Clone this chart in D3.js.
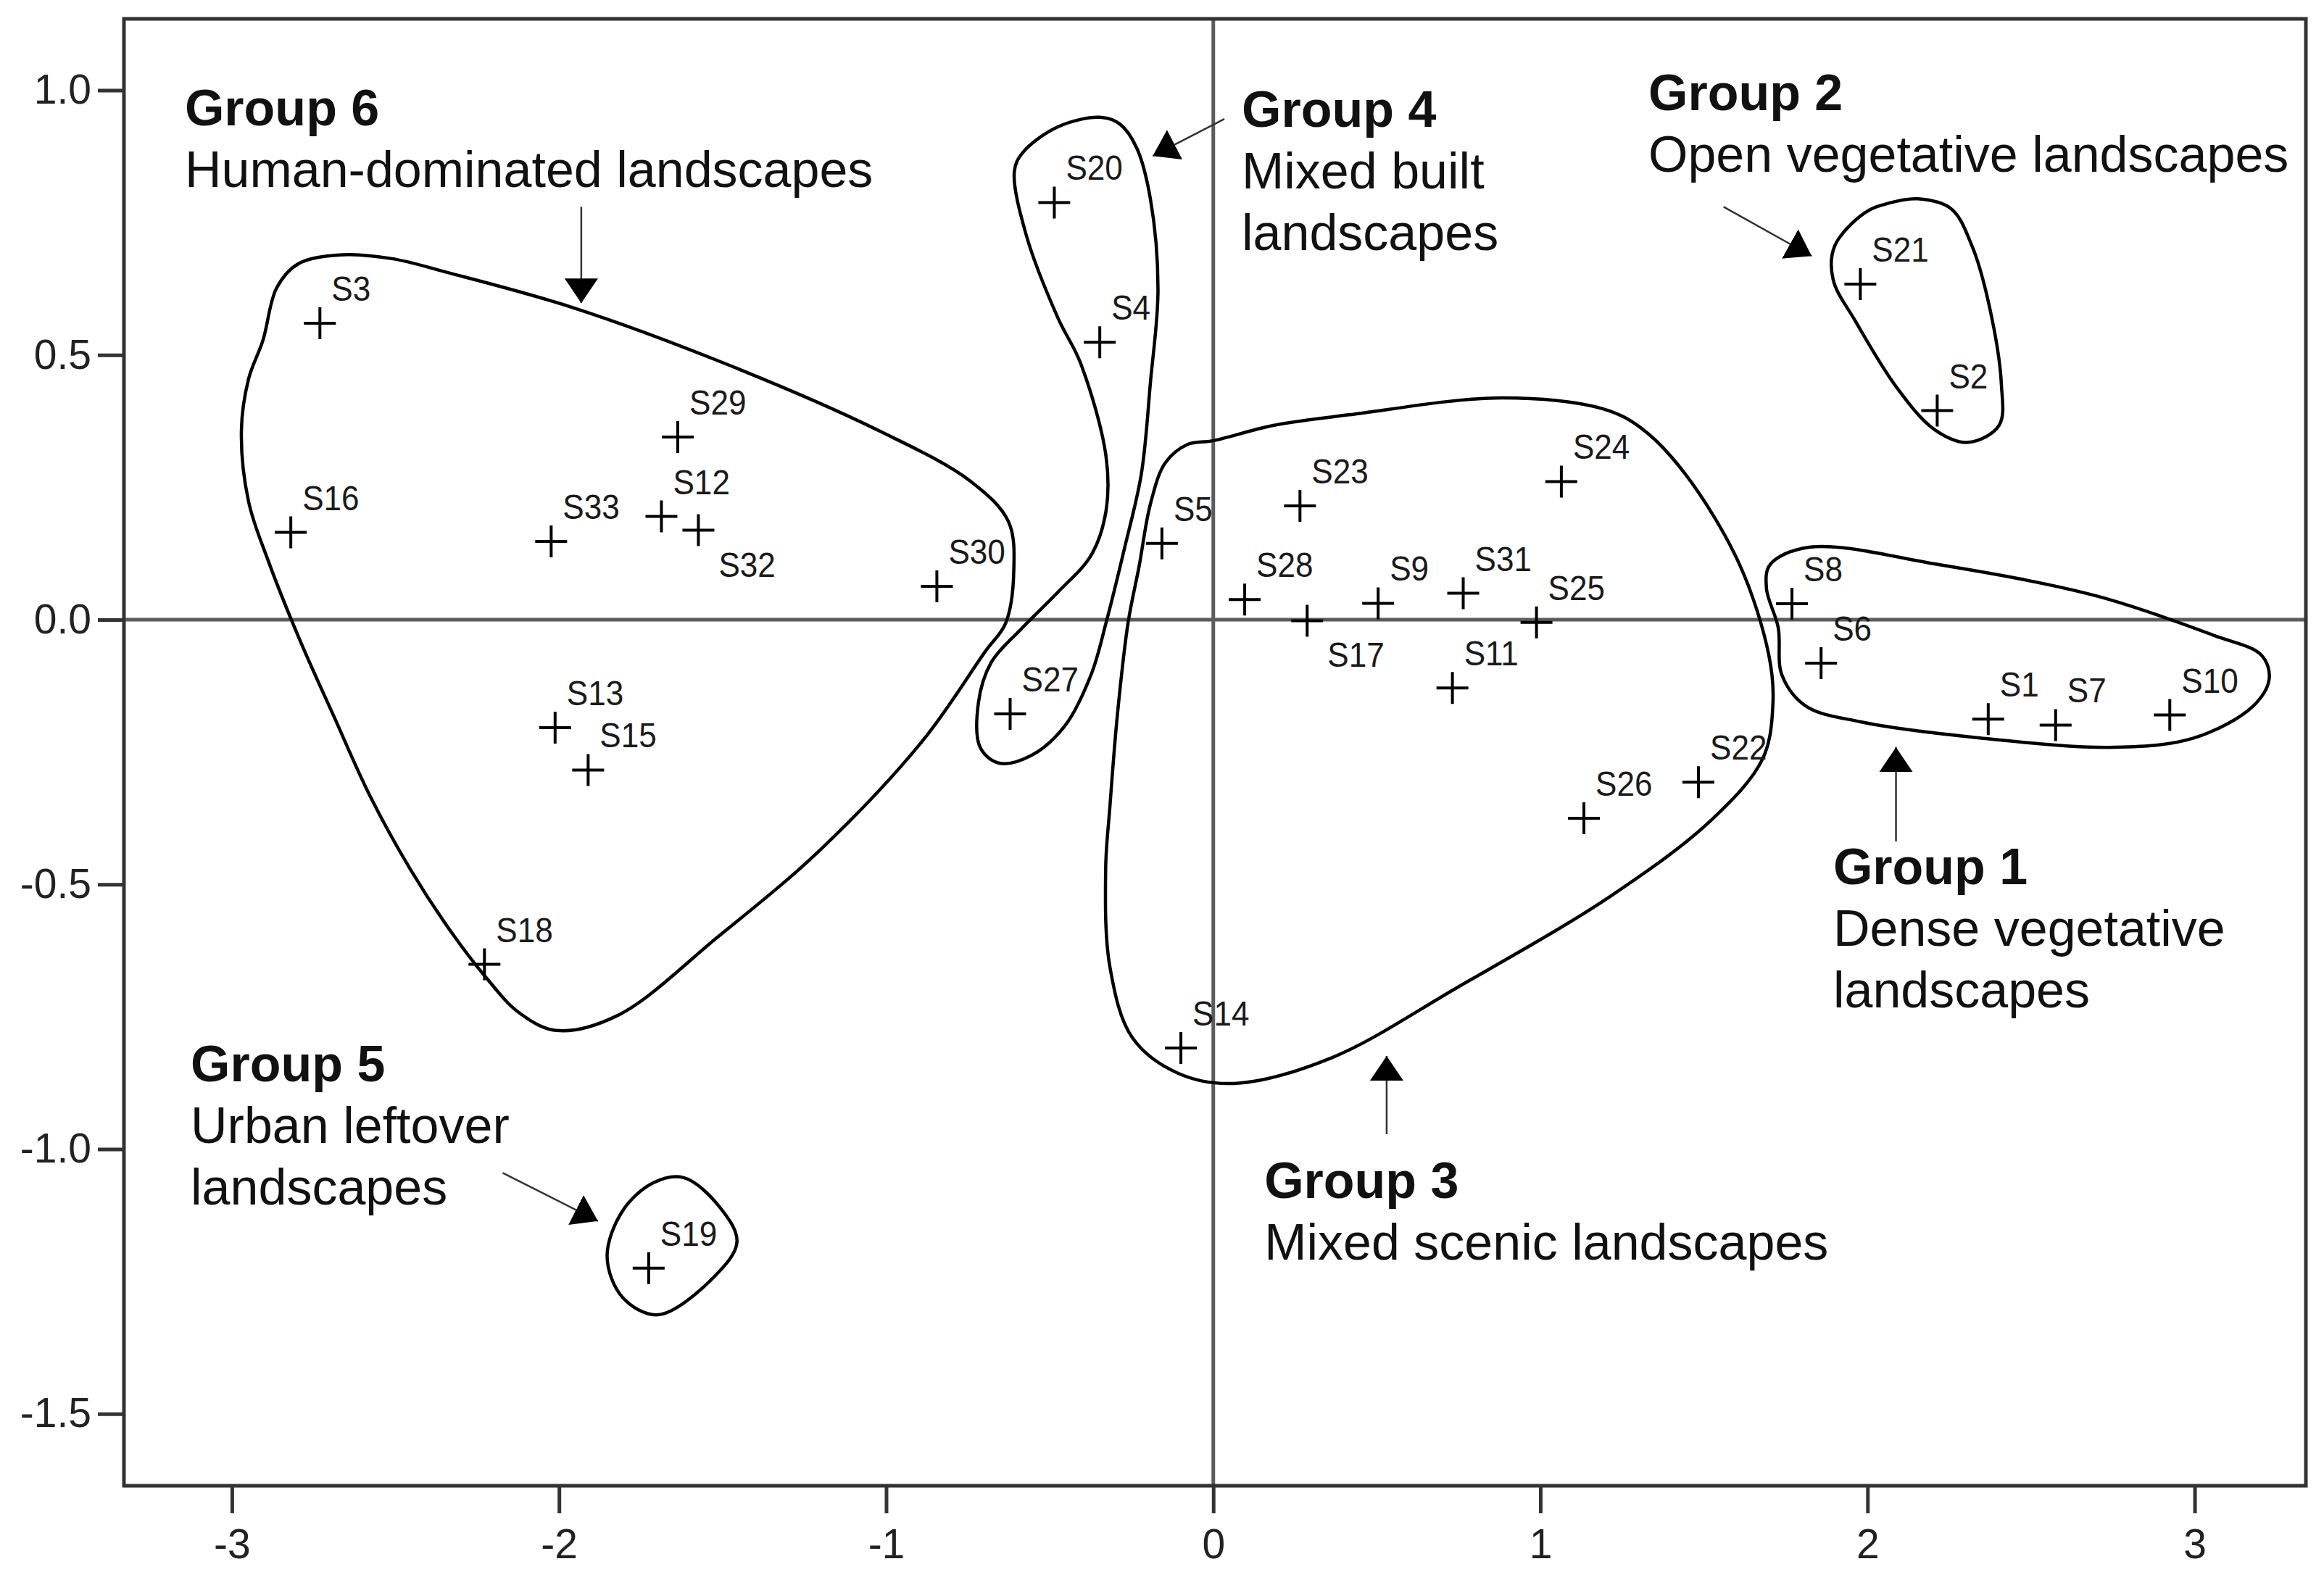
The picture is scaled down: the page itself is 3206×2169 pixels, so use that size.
<!DOCTYPE html>
<html lang="en">
<head>
<meta charset="UTF-8">
<script src="https://cdn.jsdelivr.net/npm/d3@7/dist/d3.min.js"></script>
<title>Landscape groups</title>
<style>
  body { margin: 0; background: #fff; }
  text { font-family: "Liberation Sans", Arial, sans-serif; fill: #111; }
  .axis path, .axis line { stroke: #333; stroke-width: 5; }
  .axis text { font-size: 57px; fill: #222; }
</style>
</head>
<body>
<div id="canvas"></div>
<script>
// site scores on the two dimensions
var sites = ["S1","S2","S3","S4","S5","S6","S7","S8","S9","S10","S11","S12","S13","S14","S15","S16","S17",
             "S18","S19","S20","S21","S22","S23","S24","S25","S26","S27","S28","S29","S30","S31","S32","S33"];
var dim1 = [2.369, 2.213, -2.731, -0.347, -0.157, 1.858, 2.575, 1.769, 0.504, 2.924, 0.731, -1.687, -2.012, -0.099, -1.911, -2.820, 0.287,
            -2.228, -1.726, -0.486, 1.978, 1.483, 0.265, 1.064, 0.988, 1.133, -0.621, 0.096, -1.637, -0.845, 0.764, -1.574, -2.024];
var dim2 = [-0.188, 0.395, 0.560, 0.524, 0.144, -0.082, -0.199, 0.030, 0.031, -0.180, -0.129, 0.195, -0.204, -0.809, -0.284, 0.165, -0.002,
            -0.651, -1.225, 0.788, 0.634, -0.307, 0.215, 0.261, -0.005, -0.375, -0.178, 0.038, 0.345, 0.063, 0.050, 0.169, 0.148];
// labels that sit below-right of their point
var labelBelow = ["S17", "S32"];

var xTicks = [-3, -2, -1, 0, 1, 2, 3];
var yTicks = [-1.5, -1.0, -0.5, 0.0, 0.5, 1.0];

// group annotations
var groupTitles = ["Group 1", "Group 2", "Group 3", "Group 4", "Group 5", "Group 6"];
var groupLines = [
    ["Dense vegetative", "landscapes"],
    ["Open vegetative landscapes"],
    ["Mixed scenic landscapes"],
    ["Mixed built", "landscapes"],
    ["Urban leftover", "landscapes"],
    ["Human-dominated landscapes"]
];
var groupLabelAt = [[1.895, -0.500], [1.330, 0.962], [0.156, -1.093], [0.087, 0.931], [-3.126, -0.872], [-3.144, 0.934]];
var groupArrows = [
    [[2.087, -0.419], [2.087, -0.241]],
    [[1.560, 0.780], [1.829, 0.687]],
    [[0.530, -0.972], [0.530, -0.824]],
    [[0.034, 0.946], [-0.185, 0.876]],
    [[-2.172, -1.045], [-1.881, -1.136]],
    [[-1.932, 0.780], [-1.932, 0.598]]
];

// hand drawn outlines round each group
var hull1 = [[1.702,0.104],[1.822,0.137],[2.218,0.104],[2.699,0.045],[3.060,-0.030],[3.204,-0.067],[3.228,-0.111],[3.179,-0.163],
             [3.000,-0.223],[2.759,-0.241],[2.338,-0.223],[1.979,-0.193],[1.811,-0.163],[1.738,-0.104],[1.727,-0.015],[1.691,0.059]];
var hull2 = [[2.154,0.795],[2.256,0.776],[2.320,0.705],[2.371,0.596],[2.409,0.446],[2.402,0.367],[2.307,0.335],[2.205,0.359],
             [2.090,0.438],[1.963,0.564],[1.895,0.642],[1.899,0.705],[1.990,0.768],[2.066,0.787]];
var hull3 = [[-0.001,0.338],[0.183,0.367],[0.415,0.387],[0.883,0.419],[1.193,0.398],[1.310,0.361],[1.443,0.275],[1.609,0.104],
             [1.698,-0.066],[1.711,-0.156],[1.680,-0.262],[1.525,-0.377],[1.215,-0.522],[0.748,-0.694],[0.360,-0.828],[0.065,-0.876],
             [-0.107,-0.857],[-0.247,-0.790],[-0.316,-0.656],[-0.329,-0.471],[-0.316,-0.353],[-0.293,-0.179],[-0.260,-0.004],
             [-0.227,0.100],[-0.192,0.219],[-0.147,0.296],[-0.079,0.331]];
var hull4 = [[-0.347,0.949],[-0.285,0.936],[-0.234,0.891],[-0.192,0.794],[-0.169,0.624],[-0.192,0.449],[-0.220,0.275],[-0.271,0.136],
             [-0.327,-0.004],[-0.373,-0.103],[-0.453,-0.200],[-0.555,-0.256],[-0.654,-0.271],[-0.712,-0.242],[-0.718,-0.157],
             [-0.679,-0.081],[-0.588,-0.018],[-0.475,0.052],[-0.373,0.122],[-0.328,0.205],[-0.328,0.309],[-0.406,0.485],
             [-0.475,0.570],[-0.572,0.727],[-0.608,0.847],[-0.583,0.882],[-0.475,0.931]];
var hull5 = [[-1.619,-1.054],[-1.511,-1.108],[-1.456,-1.175],[-1.527,-1.242],[-1.698,-1.313],[-1.806,-1.280],[-1.853,-1.203],
             [-1.806,-1.117],[-1.713,-1.064]];
var hull6 = [[-2.670,0.689],[-2.511,0.682],[-2.342,0.656],[-1.955,0.589],[-1.489,0.483],[-1.022,0.357],[-0.743,0.262],[-0.626,0.185],
             [-0.610,0.089],[-0.635,-0.007],[-0.697,-0.060],[-0.889,-0.229],[-1.202,-0.435],[-1.512,-0.598],[-1.822,-0.748],
             [-2.008,-0.776],[-2.123,-0.742],[-2.223,-0.676],[-2.333,-0.587],[-2.455,-0.471],[-2.577,-0.334],[-2.688,-0.183],
             [-2.794,-0.036],[-2.887,0.108],
             [-2.949,0.223],[-2.971,0.357],[-2.949,0.455],[-2.905,0.528],[-2.863,0.627],[-2.798,0.672]];
var hulls = [hull1, hull2, hull3, hull4, hull5, hull6];

var W = 3206, H = 2169;
var mLeft = 171, mRight = 3181, mTop = 26, mBottom = 2050;

var x = d3.scaleLinear().domain([-3.33, 3.34]).range([mLeft, mRight]);
var y = d3.scaleLinear().domain([-1.636, 1.135]).range([mBottom, mTop]);

var svg = d3.select("#canvas").append("svg")
    .attr("width", W)
    .attr("height", H);

svg.append("defs").append("marker")
    .attr("id", "head")
    .attr("markerUnits", "userSpaceOnUse")
    .attr("markerWidth", 40).attr("markerHeight", 50)
    .attr("viewBox", "0 -25 40 50")
    .attr("refX", 34).attr("refY", 0)
    .attr("orient", "auto")
    .append("path")
    .attr("d", "M0,-23L34,0L0,23Z")
    .attr("fill", "#000");

// zero reference lines
svg.append("line")
    .attr("x1", x(0)).attr("x2", x(0)).attr("y1", mTop).attr("y2", mBottom)
    .attr("stroke", "#5c5c5c").attr("stroke-width", 5);
svg.append("line")
    .attr("x1", mLeft).attr("x2", mRight).attr("y1", y(0)).attr("y2", y(0))
    .attr("stroke", "#5c5c5c").attr("stroke-width", 5);

// frame
svg.append("rect")
    .attr("x", mLeft).attr("y", mTop)
    .attr("width", mRight - mLeft).attr("height", mBottom - mTop)
    .attr("fill", "none").attr("stroke", "#333").attr("stroke-width", 5);

svg.append("g")
    .classed("axis", true)
    .attr("transform", "translate(" + mLeft + ",0)")
    .call(d3.axisLeft(y).tickValues(yTicks).tickFormat(function (d) { return d.toFixed(1); })
        .tickSizeOuter(0).tickSizeInner(36).tickPadding(9))
    .call(function (g) { g.select(".domain").remove(); });

svg.append("g")
    .classed("axis", true)
    .attr("transform", "translate(0," + mBottom + ")")
    .call(d3.axisBottom(x).tickValues(xTicks).tickFormat(function (d) { return String(d); })
        .tickSizeOuter(0).tickSizeInner(38).tickPadding(22))
    .call(function (g) { g.select(".domain").remove(); });

// outlines
var outline = d3.line()
    .x(function (d) { return x(d[0]); })
    .y(function (d) { return y(d[1]); })
    .curve(d3.curveCatmullRomClosed.alpha(0.5));

svg.append("g").selectAll("path")
    .data(hulls)
    .enter().append("path")
    .attr("d", outline)
    .attr("fill", "none")
    .attr("stroke", "#000")
    .attr("stroke-width", 4.5);

// points
var pts = sites.map(function (s, i) { return { name: s, a: dim1[i], b: dim2[i] }; });

var marks = svg.append("g").selectAll("g")
    .data(pts)
    .enter().append("g")
    .attr("transform", function (d) { return "translate(" + x(d.a) + "," + y(d.b) + ")"; });

marks.append("path")
    .attr("d", "M-22,0H22M0,-22V22")
    .attr("stroke", "#000")
    .attr("stroke-width", 4);

marks.append("text")
    .attr("transform", function (d) {
        return labelBelow.indexOf(d.name) >= 0 ? "translate(28,64) scale(0.9,1)" : "translate(16,-31) scale(0.9,1)";
    })
    .style("font-size", "49px")
    .style("fill", "#1a1a1a")
    .text(function (d) { return d.name; });

// group labels and arrows
var arrow = d3.line()
    .x(function (d) { return x(d[0]); })
    .y(function (d) { return y(d[1]); });

svg.append("g").selectAll("path")
    .data(groupArrows)
    .enter().append("path")
    .attr("d", arrow)
    .attr("stroke", "#333")
    .attr("stroke-width", 2.5)
    .attr("fill", "none")
    .attr("marker-end", "url(#head)");

var labels = svg.append("g").selectAll("text")
    .data(groupTitles)
    .enter().append("text")
    .attr("x", function (d, i) { return x(groupLabelAt[i][0]); })
    .attr("y", function (d, i) { return y(groupLabelAt[i][1]); })
    .style("font-size", "70px");

labels.append("tspan")
    .style("font-weight", "bold")
    .text(function (d) { return d; });

labels.each(function (d, i) {
    var t = d3.select(this);
    groupLines[i].forEach(function (line) {
        t.append("tspan")
            .attr("x", x(groupLabelAt[i][0]))
            .attr("dy", 85)
            .text(line);
    });
});
</script>
</body>
</html>
